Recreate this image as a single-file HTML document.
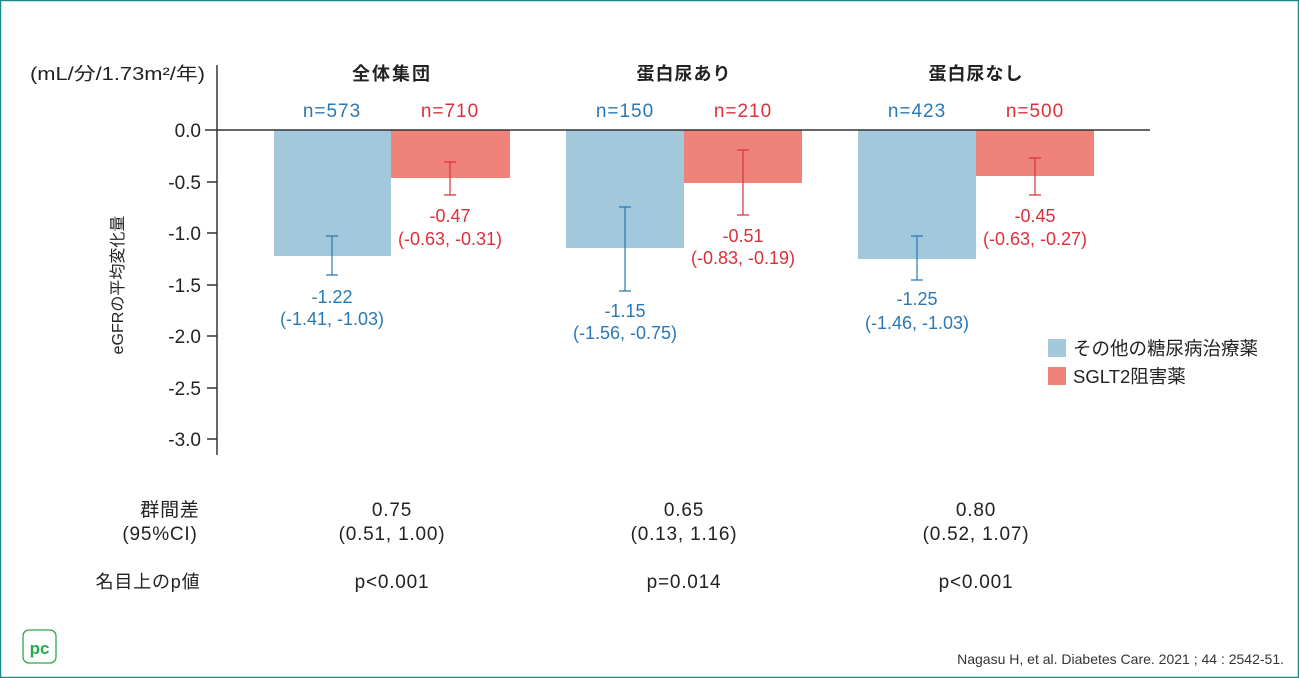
<!DOCTYPE html>
<html><head><meta charset="utf-8"><style>
body{margin:0;background:#fff}
svg{display:block;font-family:"Liberation Sans","Noto Sans CJK JP",sans-serif}
</style></head><body>
<svg width="1299" height="678" viewBox="0 0 1299 678" xmlns="http://www.w3.org/2000/svg">
<rect x="0.5" y="0.5" width="1298" height="677" fill="#fff" stroke="#1a8a8a" stroke-width="1.5"/>
<text x="30" y="80" font-size="18" fill="#222" textLength="175" lengthAdjust="spacingAndGlyphs">(mL/分/1.73m²/年)</text>
<!-- bars -->
<g>
<rect x="274" y="130" width="117" height="126" fill="#a3c8dc"/>
<rect x="391" y="130" width="119" height="48" fill="#ef8279"/>
<rect x="566" y="130" width="118" height="118" fill="#a3c8dc"/>
<rect x="684" y="130" width="118" height="53" fill="#ef8279"/>
<rect x="858" y="130" width="118" height="129" fill="#a3c8dc"/>
<rect x="976" y="130" width="118" height="46" fill="#ef8279"/>
</g>
<line x1="217" y1="65" x2="217" y2="455" stroke="#333" stroke-width="1.5"/>
<line x1="205" y1="130" x2="1150" y2="130" stroke="#333" stroke-width="1.5"/>
<g stroke="#333" stroke-width="1.5">
<line x1="207" y1="182" x2="217" y2="182"/><line x1="207" y1="233" x2="217" y2="233"/>
<line x1="207" y1="285" x2="217" y2="285"/><line x1="207" y1="336" x2="217" y2="336"/>
<line x1="207" y1="388" x2="217" y2="388"/><line x1="207" y1="439" x2="217" y2="439"/>
</g>
<g font-size="19" fill="#222" text-anchor="end">
<text x="201" y="137">0.0</text><text x="201" y="189">-0.5</text><text x="201" y="240">-1.0</text>
<text x="201" y="292">-1.5</text><text x="201" y="343">-2.0</text><text x="201" y="395">-2.5</text>
<text x="201" y="446">-3.0</text>
</g>
<text transform="translate(123,285) rotate(-90)" font-size="16" fill="#222" text-anchor="middle">eGFRの平均変化量</text>
<g stroke="#2a78b5" stroke-width="1.2">
<path d="M332 236V275M326 236H338M326 275H338"/>
<path d="M625 207V291M619 207H631M619 291H631"/>
<path d="M917 236V280M911 236H923M911 280H923"/>
</g>
<g stroke="#d9323a" stroke-width="1.2">
<path d="M450 162V195M444 162H456M444 195H456"/>
<path d="M743 150V215M737 150H749M737 215H749"/>
<path d="M1035 158V195M1029 158H1041M1029 195H1041"/>
</g>
<g font-size="18" font-weight="bold" fill="#222" text-anchor="middle">
<text x="392" y="80" letter-spacing="2">全体集団</text><text x="684" y="80" letter-spacing="1">蛋白尿あり</text><text x="976" y="80" letter-spacing="1">蛋白尿なし</text>
</g>
<g font-size="18" text-anchor="middle">
<g fill="#2a78b5">
<text x="332" y="117" font-size="19" letter-spacing="1">n=573</text><text x="625" y="117" font-size="19" letter-spacing="1">n=150</text><text x="917" y="117" font-size="19" letter-spacing="1">n=423</text>
<text x="332" y="303">-1.22</text><text x="332" y="325">(-1.41, -1.03)</text>
<text x="625" y="317">-1.15</text><text x="625" y="339">(-1.56, -0.75)</text>
<text x="917" y="305">-1.25</text><text x="917" y="329">(-1.46, -1.03)</text>
</g>
<g fill="#d9323a">
<text x="450" y="117" font-size="19" letter-spacing="1">n=710</text><text x="743" y="117" font-size="19" letter-spacing="1">n=210</text><text x="1035" y="117" font-size="19" letter-spacing="1">n=500</text>
<text x="450" y="222">-0.47</text><text x="450" y="245">(-0.63, -0.31)</text>
<text x="743" y="242">-0.51</text><text x="743" y="264">(-0.83, -0.19)</text>
<text x="1035" y="222">-0.45</text><text x="1035" y="245">(-0.63, -0.27)</text>
</g>
</g>
<rect x="1048" y="339" width="18" height="18" fill="#a3c8dc"/>
<rect x="1048" y="367" width="18" height="18" fill="#ef8279"/>
<g font-size="18.5" fill="#222">
<text x="1073" y="355">その他の糖尿病治療薬</text>
<text x="1073" y="383">SGLT2阻害薬</text>
</g>
<g font-size="19" fill="#222" text-anchor="middle" letter-spacing="0.8">
<text x="170" y="516">群間差</text><text x="160" y="540">(95%CI)</text>
<text x="148" y="588" font-size="18">名目上のp値</text>
<text x="392" y="516">0.75</text><text x="392" y="540">(0.51, 1.00)</text><text x="392" y="588">p&lt;0.001</text>
<text x="684" y="516">0.65</text><text x="684" y="540">(0.13, 1.16)</text><text x="684" y="588">p=0.014</text>
<text x="976" y="516">0.80</text><text x="976" y="540">(0.52, 1.07)</text><text x="976" y="588">p&lt;0.001</text>
</g>
<text x="1284" y="664" font-size="14" fill="#333" text-anchor="end">Nagasu H, et al. Diabetes Care. 2021 ; 44 : 2542-51.</text>
<rect x="23" y="630" width="33" height="33" rx="6" fill="#fff" stroke="#2aa84a" stroke-width="1.3"/>
<text x="39.5" y="654" font-size="17" font-weight="bold" fill="#2aa84a" text-anchor="middle">pc</text>
</svg>
</body></html>
